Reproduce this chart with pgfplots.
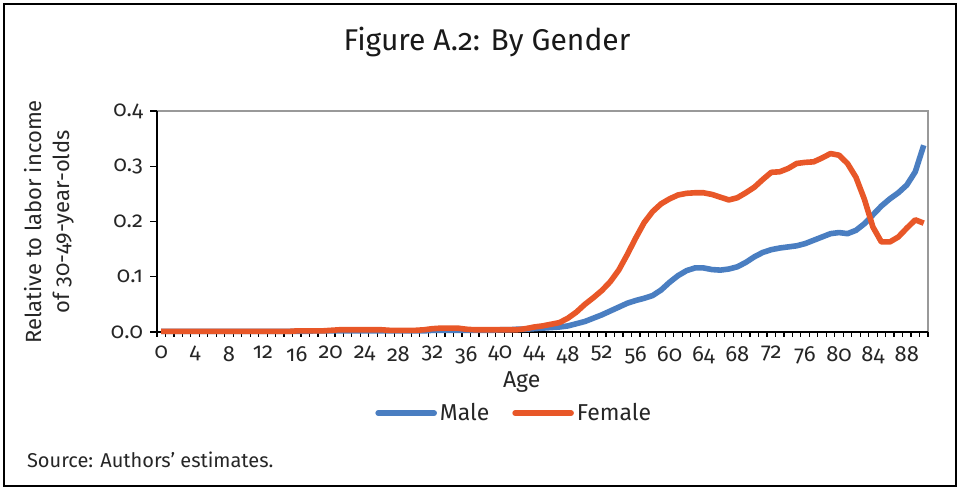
\documentclass[border=0pt]{standalone}
\usepackage{pgfplots}
\pgfplotsset{compat=1.18}
\usepackage{pgfplotstable}
\usepackage{fontspec}
\setmainfont{Fira Sans}[Numbers={OldStyle,Proportional}]
\definecolor{maleblue}{RGB}{74,126,193}
\definecolor{femaleorange}{RGB}{232,87,40}
\pgfplotstableread{
age male female
0 0.001 0.001
1 0.001 0.001
2 0.001 0.001
3 0.001 0.001
4 0.001 0.001
5 0.001 0.001
6 0.001 0.001
7 0.001 0.001
8 0.001 0.001
9 0.001 0.001
10 0.001 0.001
11 0.001 0.001
12 0.001 0.001
13 0.001 0.001
14 0.001 0.001
15 0.001 0.001
16 0.001 0.002
17 0.001 0.002
18 0.002 0.002
19 0.002 0.002
20 0.002 0.003
21 0.002 0.004
22 0.002 0.004
23 0.002 0.004
24 0.002 0.004
25 0.002 0.004
26 0.002 0.004
27 0.002 0.003
28 0.002 0.003
29 0.002 0.003
30 0.002 0.003
31 0.002 0.004
32 0.003 0.006
33 0.003 0.007
34 0.003 0.007
35 0.003 0.007
36 0.003 0.005
37 0.003 0.004
38 0.003 0.004
39 0.003 0.004
40 0.004 0.004
41 0.004 0.004
42 0.005 0.004
43 0.005 0.006
44 0.006 0.009
45 0.007 0.011
46 0.008 0.014
47 0.009 0.017
48 0.011 0.025
49 0.015 0.036
50 0.019 0.050
51 0.025 0.062
52 0.031 0.075
53 0.038 0.091
54 0.045 0.112
55 0.052 0.140
56 0.057 0.170
57 0.061 0.198
58 0.066 0.218
59 0.076 0.232
60 0.090 0.241
61 0.102 0.248
62 0.111 0.251
63 0.116 0.252
64 0.116 0.252
65 0.113 0.249
66 0.112 0.244
67 0.114 0.239
68 0.118 0.243
69 0.126 0.252
70 0.136 0.262
71 0.144 0.276
72 0.149 0.289
73 0.152 0.290
74 0.154 0.296
75 0.156 0.305
76 0.160 0.307
77 0.166 0.308
78 0.172 0.315
79 0.178 0.323
80 0.180 0.320
81 0.178 0.305
82 0.184 0.280
83 0.196 0.240
84 0.212 0.190
85 0.228 0.163
86 0.241 0.163
87 0.252 0.172
88 0.266 0.188
89 0.290 0.203
90 0.338 0.197
}\datatable
\begin{document}
\begin{tikzpicture}
\useasboundingbox (0,0) rectangle (480pt,243.5pt);
\draw[line width=1pt] (2pt,0.5pt) rectangle (478pt,241.5pt);
\node[font=\fontsize{15pt}{18pt}\selectfont, text=black!90] at (243.5pt,222.5pt) {Figure A.2: By Gender};
\node[font=\fontsize{11pt}{14pt}\selectfont, text=black!85, align=center, rotate=90] at (24.5pt,132.5pt) {Relative to labor income\\of 30-49-year-olds};
\node[font=\fontsize{10pt}{12pt}\selectfont, text=black!85, anchor=west] at (10pt,13.5pt) {Source: Authors’ estimates.};
\begin{axis}[
  at={(78.5pt,77.5pt)}, anchor=south west,
  width=385.5pt, height=110.5pt, scale only axis,
  xmin=-0.5, xmax=90.5, ymin=0, ymax=0.4,
  clip=false,
  axis background/.style={draw=black!40, line width=0.7pt},
  axis x line*=bottom, axis y line*=left,
  axis line style={black, line width=0.9pt, -},
  tick align=outside,
  xtick={0,4,...,88},
  minor xtick={-0.5,0.5,...,90.5},
  major x tick style={draw=none},
  minor x tick style={black, line width=0.6pt},
  major y tick style={black, line width=0.7pt},
  major tick length=3.5pt, minor tick length=2.5pt,
  ytick={0,0.1,0.2,0.3,0.4},
  /pgf/number format/assume math mode=true,
  yticklabel style={/pgf/number format/fixed, /pgf/number format/fixed zerofill, /pgf/number format/precision=1},
  ticklabel style={font=\fontsize{11pt}{13pt}\selectfont, text=black!85},
  xlabel={Age},
  xlabel style={font=\fontsize{11.5pt}{13pt}\selectfont, text=black!85, at={(0.473,-0.226)}, anchor=center},
  legend style={at={(0.464,-0.367)}, anchor=center, draw=none, fill=none,
    font=\fontsize{11.5pt}{13pt}\selectfont, text=black!85, legend columns=2,
    /tikz/every even column/.append style={column sep=10pt},
    inner sep=0pt, nodes={inner sep=1.5pt}},
  legend image code/.code={\draw[#1, line cap=round] (0pt,0pt) -- (28pt,0pt);},
]
\addplot[maleblue, line width=2.8pt, line join=round] table[x=age, y=male] {\datatable};
\addlegendentry{Male}
\addplot[femaleorange, line width=2.8pt, line join=round] table[x=age, y=female] {\datatable};
\addlegendentry{Female}
\end{axis}
\end{tikzpicture}
\end{document}
